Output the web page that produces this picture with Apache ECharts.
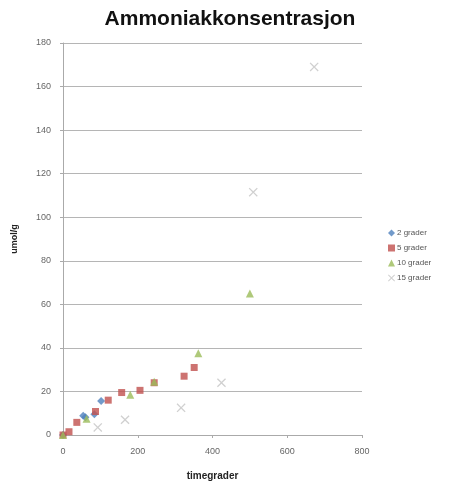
<!DOCTYPE html>
<html>
<head>
<meta charset="utf-8">
<script src="https://cdn.jsdelivr.net/npm/echarts@6/dist/echarts.min.js"></script>
<style>
  html, body { margin: 0; padding: 0; background: #fff; }
  #chart { width: 451px; height: 486px; }
</style>
</head>
<body>
<div id="chart"></div>
<script>
// Ammonia concentration (umol/g) against degree-hours, one series per storage temperature
const seriesNames = ['2 grader', '5 grader', '10 grader', '15 grader'];

const grader2 = [[0, 0], [54, 8.8], [60, 8.2], [84, 9.5], [102, 15.6]];
const grader5 = [[0, 0], [16, 1.5], [37, 5.8], [87, 10.8], [121, 16], [157, 19.5], [206, 20.5], [244, 24], [324, 27], [351, 31]];
const grader10 = [[0, 0], [63, 7.5], [180, 18.5], [244, 24.5], [362, 37.5], [500, 65]];
const grader15 = [[93, 3.5], [166, 7], [316, 12.5], [424, 24], [509, 111.5], [672, 169]];

const xTicks = [0, 200, 400, 600, 800];
const yTicks = [0, 20, 40, 60, 80, 100, 120, 140, 160, 180];

const crossPath = 'path://M0,1L1,0L5,4L9,0L10,1L6,5L10,9L9,10L5,6L1,10L0,9L4,5Z';

const chart = echarts.init(document.getElementById('chart'));
const font = 'Liberation Sans, Arial, sans-serif';

chart.setOption({
  animation: false,
  backgroundColor: '#ffffff',
  title: {
    text: 'Ammoniakkonsentrasjon',
    left: 225, top: 4, textAlign: 'center',
    textStyle: { fontFamily: font, fontSize: 21, fontWeight: 'bold', color: '#111' }
  },
  legend: {
    orient: 'vertical',
    left: 383, top: 224,
    itemWidth: 7, itemHeight: 7, itemGap: 7,
    textStyle: { fontFamily: font, fontSize: 8, color: '#555', padding: [0, 0, 0, -3] },
    data: seriesNames
  },
  grid: { left: 63, right: 89, top: 43, bottom: 49 },
  xAxis: {
    type: 'value', min: xTicks[0], max: xTicks[xTicks.length - 1], interval: 200,
    name: 'timegrader', nameLocation: 'middle', nameGap: 36,
    nameTextStyle: { fontFamily: font, fontSize: 10, fontWeight: 'bold', color: '#222' },
    axisLine: { lineStyle: { color: '#aaa' } },
    axisTick: { show: true, lineStyle: { color: '#aaa' }, length: 3 },
    axisLabel: { fontFamily: font, fontSize: 9, color: '#666', margin: 12 },
    splitLine: { show: false }
  },
  yAxis: {
    type: 'value', min: yTicks[0], max: yTicks[yTicks.length - 1], interval: 20,
    name: 'umol/g', nameLocation: 'middle', nameGap: 44, nameRotate: 90,
    nameTextStyle: { fontFamily: font, fontSize: 9, fontWeight: 'bold', color: '#222' },
    axisLine: { show: true, lineStyle: { color: '#aaa' } },
    axisTick: { show: true, lineStyle: { color: '#aaa' }, length: 3 },
    axisLabel: { fontFamily: font, fontSize: 9, color: '#666', margin: 12 },
    splitLine: { show: true, lineStyle: { color: '#b5b5b5', width: 1 } }
  },
  series: [
    { name: seriesNames[0], type: 'scatter', data: grader2, symbol: 'diamond', symbolSize: 8,
      itemStyle: { color: '#4F81BD' } },
    { name: seriesNames[1], type: 'scatter', data: grader5, symbol: 'rect', symbolSize: 7,
      itemStyle: { color: '#C0504D' } },
    { name: seriesNames[2], type: 'scatter', data: grader10, symbol: 'triangle', symbolSize: 8,
      itemStyle: { color: '#9BBB59' } },
    { name: seriesNames[3], type: 'scatter', data: grader15, symbol: crossPath, symbolSize: 9,
      itemStyle: { color: '#c4c4c4' } }
  ]
});
</script>
</body>
</html>
